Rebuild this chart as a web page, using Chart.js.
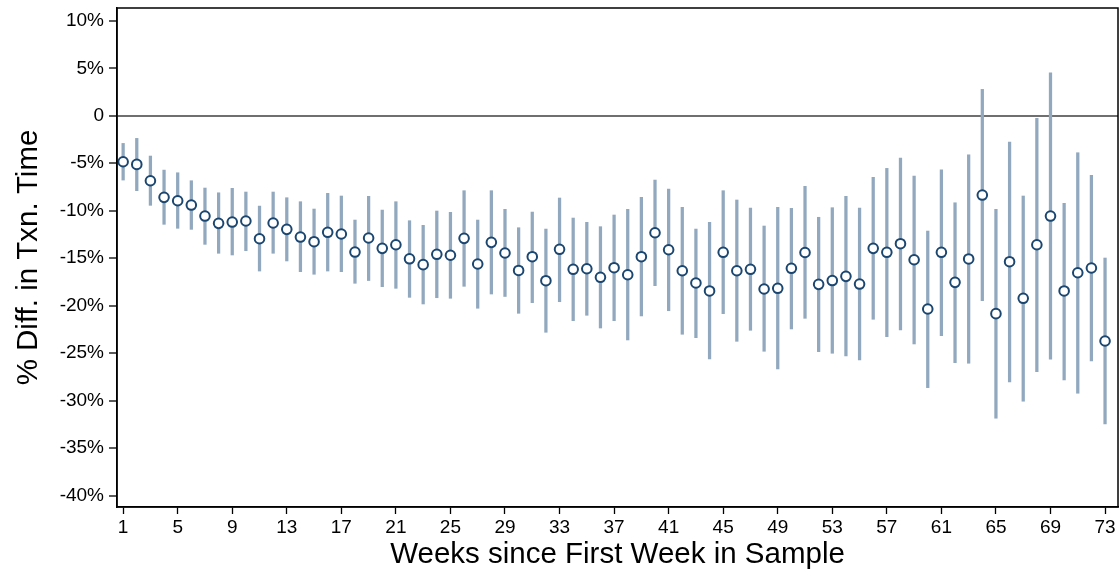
<!DOCTYPE html>
<html>
<head>
<meta charset="utf-8">
<script src="https://cdn.jsdelivr.net/npm/chart.js@4"></script>
<style>
    html, body { margin: 0; padding: 0; background: #fff; }
    #wrap { width: 1119px; height: 573px; }
</style>
</head>
<body>
<div id="wrap"><canvas id="weeksChart" width="1119" height="573"></canvas></div>
<script>
// week index, point estimate and 95% CI (percent)
const weeks = Array.from({ length: 73 }, (_, i) => i + 1);

const estimate = [
    -4.84, -5.12, -6.84, -8.59, -8.95, -9.40, -10.56, -11.33, -11.19, -11.08,
    -12.95, -11.29, -11.96, -12.77, -13.26, -12.27, -12.45, -14.35, -12.87, -13.96,
    -13.58, -15.06, -15.68, -14.59, -14.69, -12.91, -15.61, -13.33, -14.45, -16.29,
    -14.84, -17.37, -14.06, -16.17, -16.11, -17.01, -16.00, -16.74, -14.84, -12.32,
    -14.11, -16.32, -17.61, -18.45, -14.38, -16.32, -16.17, -18.24, -18.17, -16.06,
    -14.40, -17.75, -17.35, -16.91, -17.72, -13.96, -14.38, -13.47, -15.16, -20.35,
    -14.38, -17.54, -15.08, -8.35, -20.84, -15.37, -19.22, -13.58, -10.56, -18.45,
    -16.53, -16.03, -23.72
];

const ciHigh = [
    -2.91, -2.38, -4.24, -5.72, -6.00, -6.84, -7.61, -8.11, -7.64, -8.03,
    -9.51, -8.03, -8.63, -9.05, -9.82, -8.17, -8.45, -10.98, -8.48, -9.93,
    -9.05, -11.05, -11.54, -10.03, -10.17, -7.89, -10.98, -7.89, -9.85, -11.79,
    -10.14, -11.93, -8.66, -10.77, -11.22, -11.68, -10.45, -9.85, -8.59, -6.77,
    -7.72, -9.64, -11.93, -11.22, -7.89, -8.87, -9.72, -11.61, -9.64, -9.75,
    -7.43, -10.69, -9.68, -8.48, -9.72, -6.48, -5.54, -4.45, -6.35, -12.14,
    -5.68, -9.16, -4.11, 2.78, -9.85, -2.77, -8.45, -0.27, 4.53, -9.22,
    -3.89, -6.27, -14.98
];

const ciLow = [
    -6.77, -7.89, -9.43, -11.43, -11.85, -11.96, -13.54, -14.48, -14.66, -14.21,
    -16.35, -14.48, -15.29, -16.42, -16.69, -16.35, -16.42, -17.64, -17.35, -18.00,
    -18.17, -19.12, -19.82, -19.16, -19.22, -17.96, -20.27, -18.77, -19.03, -20.80,
    -19.68, -22.80, -19.58, -21.58, -21.01, -22.35, -21.58, -23.61, -21.08, -17.89,
    -20.53, -23.01, -23.37, -25.61, -20.84, -23.75, -22.59, -24.80, -26.66, -22.45,
    -21.33, -24.84, -25.01, -25.29, -25.72, -21.43, -23.26, -22.56, -24.03, -28.63,
    -23.16, -26.00, -26.06, -19.47, -31.85, -28.03, -30.06, -26.95, -25.64, -27.82,
    -29.22, -25.82, -32.45
];

const xTicks = [1, 5, 9, 13, 17, 21, 25, 29, 33, 37, 41, 45, 49, 53, 57, 61, 65, 69, 73];
const yTicks = [-40, -35, -30, -25, -20, -15, -10, -5, 0, 5, 10];

const FONT = "'Liberation Sans', Arial, sans-serif";

// box around the plot area
const frame = {
    id: 'frame',
    afterDraw(chart) {
        const { ctx, chartArea: a } = chart;
        ctx.save();
        ctx.strokeStyle = '#000';
        ctx.lineWidth = 1.5;
        ctx.strokeRect(a.left, a.top, a.right - a.left, a.bottom - a.top);
        ctx.restore();
    }
};

new Chart(document.getElementById('weeksChart'), {
    data: {
        datasets: [{
            type: 'scatter',
            order: 0,
            data: weeks.map((w, i) => ({ x: w, y: estimate[i] })),
            pointStyle: 'circle',
            pointRadius: 4.8,
            pointBorderWidth: 2,
            pointBorderColor: '#1b4670',
            pointBackgroundColor: '#fff',
            showLine: false
        }, {
            type: 'bar',
            order: 1,
            data: weeks.map((w, i) => ({ x: w, y: [ciLow[i], ciHigh[i]] })),
            backgroundColor: '#91a8be',
            borderWidth: 0,
            barThickness: 2.6,
            grouped: false
        }]
    },
    options: {
        responsive: false,
        animation: false,
        layout: { autoPadding: false, padding: { top: 8, right: 1, left: 0, bottom: 0 } },
        plugins: {
            legend: { display: false },
            tooltip: { enabled: false }
        },
        scales: {
            x: {
                type: 'linear',
                offset: false,
                min: 0.55,
                max: 73.95,
                afterBuildTicks: (scale) => { scale.ticks = xTicks.map(v => ({ value: v })); },
                afterFit: (scale) => {
                    scale.height = 66;
                    scale.paddingLeft = 0;
                    scale.paddingRight = 0;
                },
                ticks: {
                    color: '#000',
                    font: { family: FONT, size: 19 },
                    padding: 2,
                    maxRotation: 0,
                    autoSkip: false
                },
                grid: {
                    offset: false,
                    drawOnChartArea: false,
                    tickLength: 7,
                    tickColor: '#000',
                    tickWidth: 1.3
                },
                border: { color: '#000', width: 1.5 },
                title: {
                    display: true,
                    text: 'Weeks since First Week in Sample',
                    color: '#000',
                    font: { family: FONT, size: 29.5 },
                    padding: { top: 0, bottom: 0 }
                }
            },
            y: {
                min: -41.2,
                max: 11.35,
                afterBuildTicks: (scale) => { scale.ticks = yTicks.map(v => ({ value: v })); },
                afterFit: (scale) => {
                    scale.width = 117;
                    scale.paddingTop = 0;
                    scale.paddingBottom = 0;
                },
                ticks: {
                    color: '#000',
                    font: { family: FONT, size: 19 },
                    padding: 5,
                    callback: (v) => (v === 0 ? '0' : v + '%')
                },
                grid: {
                    color: (c) => (c.tick && c.tick.value === 0 ? '#6f6f6f' : 'rgba(0,0,0,0)'),
                    lineWidth: 2,
                    tickLength: 8,
                    tickColor: '#000',
                    tickWidth: 1.3
                },
                border: { color: '#000', width: 1.5 },
                title: {
                    display: true,
                    text: '% Diff. in Txn. Time',
                    color: '#000',
                    font: { family: FONT, size: 29.5 },
                    padding: { top: 11, bottom: 0 }
                }
            }
        }
    },
    plugins: [frame]
});
</script>
</body>
</html>
